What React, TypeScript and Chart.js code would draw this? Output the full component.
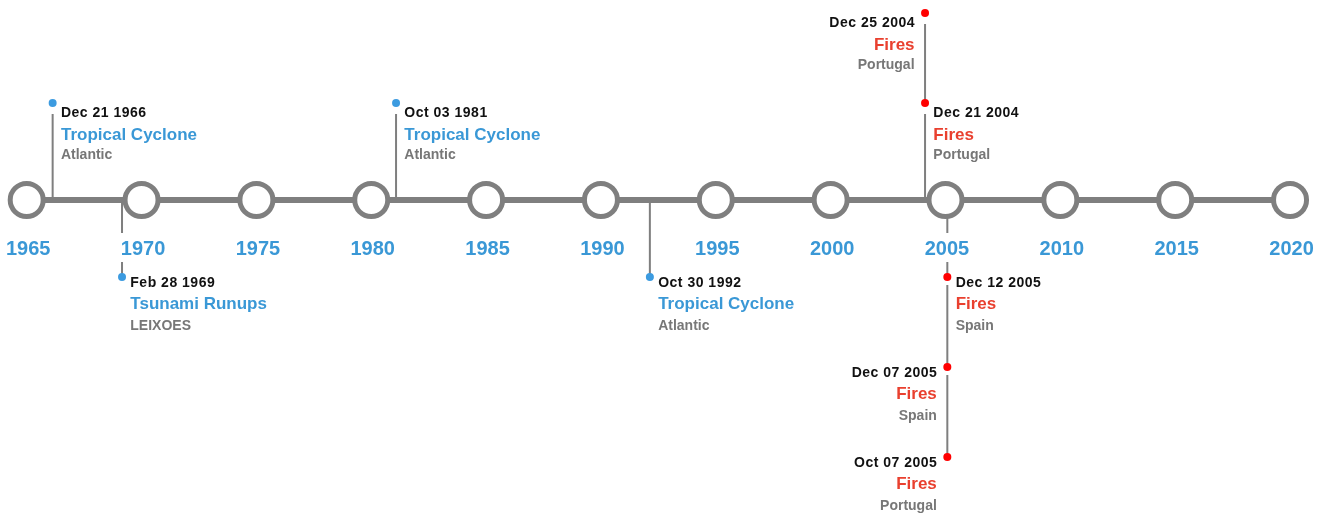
import React, { useEffect, useRef } from "react";
import { Chart, registerables } from "chart.js";

Chart.register(...registerables);

// ---------- data ----------
const yearTicks = [1965, 1970, 1975, 1980, 1985, 1990, 1995, 2000, 2005, 2010, 2015, 2020];

const eventDates = ["Dec 21 1966", "Feb 28 1969", "Oct 03 1981", "Oct 30 1992", "Dec 25 2004", "Dec 21 2004", "Dec 12 2005", "Dec 07 2005", "Oct 07 2005"];
const eventX = [1966.13, 1969.15, 1981.08, 1992.13, 2004.11, 2004.11, 2005.08, 2005.08, 2005.08];
const eventLevel = [97, -77, 97, -77, 187, 97, -77, -167, -257];
const eventTitles = ["Tropical Cyclone", "Tsunami Runups", "Tropical Cyclone", "Tropical Cyclone", "Fires", "Fires", "Fires", "Fires", "Fires"];
const eventPlaces = ["Atlantic", "LEIXOES", "Atlantic", "Atlantic", "Portugal", "Portugal", "Spain", "Spain", "Portugal"];
const eventKinds = ["storm", "tsunami", "storm", "storm", "fire", "fire", "fire", "fire", "fire"];
const eventSide = ["right", "right", "right", "right", "left", "right", "right", "left", "left"];

// ---------- styles ----------
const FONT = '"Liberation Sans", Arial, Helvetica, sans-serif';
const GRAY = "#7f7f7f";
const BLUE = "#3a98d6";
const dotColor: Record<string, string> = { storm: "#3c9be0", tsunami: "#3c9be0", fire: "#ff0000" };
const titleColor: Record<string, string> = { storm: BLUE, tsunami: BLUE, fire: "#e9402f" };

function innerLevel(i: number): number {
  const lv = eventLevel[i];
  let best = 0;
  eventX.forEach((x, j) => {
    if (j === i || x !== eventX[i]) return;
    const o = eventLevel[j];
    if (Math.sign(o) === Math.sign(lv) && Math.abs(o) < Math.abs(lv) && Math.abs(o) > Math.abs(best)) best = o;
  });
  return best;
}

function buildStems() {
  const pts: any[] = [];
  eventX.forEach((x, i) => {
    const lv = eventLevel[i];
    const inner = innerLevel(i);
    if (lv > 0) {
      pts.push({ x, y: lv - 11 }, { x, y: inner });
    } else {
      pts.push({ x, y: inner === 0 ? 0 : inner - 8 }, { x, y: lv });
    }
    pts.push({ x, y: null });
  });
  return pts;
}

const textPlugin = {
  id: "timelineText",
  afterDatasetsDraw(chart: any) {
    const { ctx } = chart;
    const xs = chart.scales.x;
    const ys = chart.scales.y;
    ctx.save();
    // year labels with white backing
    ctx.font = `bold 20px ${FONT}`;
    ctx.textAlign = "center";
    ctx.textBaseline = "alphabetic";
    const base = ys.getPixelForValue(0);
    yearTicks.forEach((yr) => {
      const px = xs.getPixelForValue(yr) + 1.5;
      const py = base + 55;
      const w = ctx.measureText(String(yr)).width;
      ctx.fillStyle = "#ffffff";
      ctx.fillRect(px - w / 2 - 3, py - 22, w + 6, 29);
      ctx.fillStyle = BLUE;
      ctx.fillText(String(yr), px, py);
    });
    // event labels
    eventX.forEach((xv, i) => {
      const dx = xs.getPixelForValue(xv);
      const dy = ys.getPixelForValue(eventLevel[i]);
      const up = eventLevel[i] > 0;
      const off = up ? [14.2, 37, 56] : [9.5, 32.3, 52.6];
      const left = eventSide[i] === "left";
      const tx = left ? dx - 10.5 : dx + 8.3;
      ctx.textAlign = left ? "right" : "left";
      ctx.font = `bold 14px ${FONT}`;
      (ctx as any).letterSpacing = "0.5px";
      ctx.fillStyle = "#111111";
      ctx.fillText(eventDates[i], left ? tx + 0.5 : tx, dy + off[0]);
      (ctx as any).letterSpacing = "0px";
      ctx.font = `bold 17px ${FONT}`;
      ctx.fillStyle = titleColor[eventKinds[i]];
      ctx.fillText(eventTitles[i], tx, dy + off[1]);
      ctx.font = `bold 14px ${FONT}`;
      ctx.fillStyle = "#777777";
      ctx.fillText(eventPlaces[i], tx, dy + off[2]);
    });
    ctx.restore();
  },
};

export default function App() {
  const ref = useRef<HTMLCanvasElement | null>(null);
  useEffect(() => {
    if (!ref.current) return;
    const chart = new Chart(ref.current, {
      type: "scatter",
      data: {
        datasets: [
          {
            type: "line",
            data: buildStems(),
            borderColor: GRAY,
            borderWidth: 2,
            pointRadius: 0,
            spanGaps: false,
            order: 6,
            clip: false,
          } as any,
          {
            type: "line",
            data: [
              { x: yearTicks[0], y: 0 },
              { x: yearTicks[yearTicks.length - 1], y: 0 },
            ],
            borderColor: GRAY,
            borderWidth: 6,
            pointRadius: 0,
            order: 5,
            clip: false,
          } as any,
          {
            data: yearTicks.map((t) => ({ x: t, y: 0 })),
            pointRadius: 16.5,
            pointBorderWidth: 5,
            pointBackgroundColor: "#ffffff",
            pointBorderColor: GRAY,
            order: 4,
            clip: false,
          } as any,
          {
            data: eventX.map((x, i) => ({ x, y: eventLevel[i] })),
            pointRadius: 4,
            pointBorderWidth: 0,
            pointBackgroundColor: eventKinds.map((k) => dotColor[k]),
            order: 1,
            clip: false,
          } as any,
        ],
      },
      options: {
        animation: false,
        responsive: false,
        layout: { padding: 0, autoPadding: false },
        plugins: { legend: { display: false }, tooltip: { enabled: false } },
        events: [],
        scales: {
          x: { type: "linear", min: 1963.838, max: 2021.522, display: false },
          y: { type: "linear", min: -313, max: 200, display: false },
        },
      },
      plugins: [textPlugin],
    });
    return () => chart.destroy();
  }, []);
  return (
    <div style={{ position: "absolute", left: 0, top: 0, width: 1325, height: 513, background: "#fff" }}>
      <canvas ref={ref} width={1325} height={513} style={{ display: "block", width: 1325, height: 513 }} />
    </div>
  );
}
